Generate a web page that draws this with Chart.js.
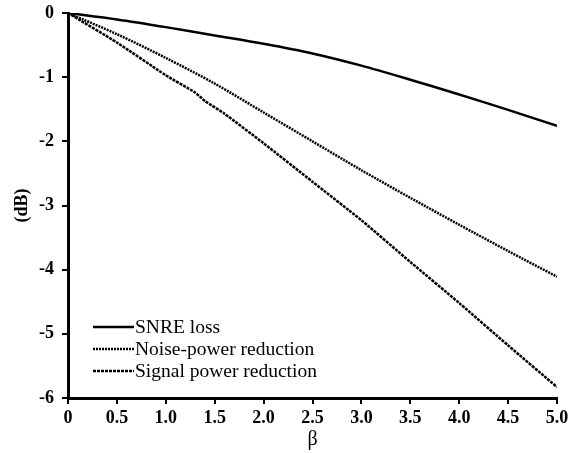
<!DOCTYPE html>
<html lang="en">

<head>
    <meta charset="UTF-8">
    <title>SNRE loss vs beta</title>
    <style>
        html, body {
            margin: 0;
            padding: 0;
            background: #fff;
        }
        .blocker {
            width: 573px;
            height: 453px;
        }
    </style>
    <script src="https://cdn.jsdelivr.net/npm/chart.js"></script>
</head>

<body>
    <div class="blocker">
        <canvas id="myChart"></canvas>
    </div>

    <script>
        // values
        const snreBeta = [0, 0.5, 1.0, 1.5, 2.0, 2.5, 3.0, 3.5, 4.0, 4.5, 5.0];
        const snreLoss = [0, -0.10, -0.22, -0.35, -0.48, -0.63, -0.82, -1.04, -1.27, -1.51, -1.76];

        const noiseBeta = [0, 0.5, 1.0, 1.5, 2.0, 2.5, 3.0, 3.5, 4.0, 4.5, 5.0];
        const noiseReduction = [0, -0.33, -0.70, -1.10, -1.55, -2.00, -2.45, -2.88, -3.30, -3.71, -4.11];

        const signalBeta = [0, 0.5, 1.0, 1.3, 1.4, 1.6, 2.0, 2.5, 3.0, 3.5, 4.0, 4.5, 5.0];
        const signalReduction = [0, -0.46, -0.97, -1.24, -1.37, -1.57, -2.03, -2.63, -3.23, -3.88, -4.52, -5.18, -5.83];

        const xTicks = [0, 0.5, 1.0, 1.5, 2.0, 2.5, 3.0, 3.5, 4.0, 4.5, 5.0];
        const yTicks = [0, -1, -2, -3, -4, -5, -6];

        const seriesNames = ['SNRE loss', 'Noise-power reduction', 'Signal power reduction'];

        const toPoints = (xs, ys) => xs.map((x, i) => ({ x: x, y: ys[i] }));

        const serif = '"Liberation Serif", "Times New Roman", serif';
        const tickFont = { family: serif, size: 18, weight: 'bold' };

        // legend drawn inside the plot, lower left
        const insideLegend = {
            id: 'insideLegend',
            afterDraw(chart) {
                const c = chart.ctx;
                const x0 = 93, x1 = 134;
                const rows = [327, 349, 371];
                c.save();
                c.font = '19.5px ' + serif;
                c.fillStyle = '#000';
                c.textBaseline = 'middle';
                chart.data.datasets.forEach((ds, i) => {
                    c.beginPath();
                    c.strokeStyle = '#000';
                    c.lineWidth = ds.borderWidth;
                    c.setLineDash(ds.borderDash || []);
                    c.moveTo(x0, rows[i]);
                    c.lineTo(x1, rows[i]);
                    c.stroke();
                    c.setLineDash([]);
                    c.fillText(ds.label, x1 + 1, rows[i] + 1);
                });
                c.restore();
            }
        };

        const ctx = document.getElementById('myChart');

        new Chart(ctx, {
            type: 'line',
            data: {
                datasets: [{
                    label: seriesNames[0],
                    data: toPoints(snreBeta, snreLoss),
                    borderColor: '#000',
                    borderWidth: 2.5,
                    pointRadius: 0,
                    tension: 0.3
                }, {
                    label: seriesNames[1],
                    data: toPoints(noiseBeta, noiseReduction),
                    borderColor: '#000',
                    borderWidth: 2.5,
                    borderDash: [2, 1],
                    pointRadius: 0,
                    tension: 0.3
                }, {
                    label: seriesNames[2],
                    data: toPoints(signalBeta, signalReduction),
                    borderColor: '#000',
                    borderWidth: 2.5,
                    borderDash: [3, 1],
                    pointRadius: 0,
                    tension: 0.2
                }]
            },
            options: {
                responsive: true,
                maintainAspectRatio: false,
                animation: false,
                layout: {
                    padding: { top: 13, right: 16, left: 0, bottom: 0 }
                },
                plugins: {
                    legend: { display: false },
                    tooltip: { enabled: false }
                },
                scales: {
                    x: {
                        type: 'linear',
                        min: 0,
                        max: 5,
                        afterBuildTicks: (s) => { s.ticks = xTicks.map(v => ({ value: v })); },
                        afterFit: (s) => { s.height = 55; },
                        grid: { drawOnChartArea: false, drawTicks: true, tickLength: 6, color: '#000', lineWidth: 2 },
                        border: { color: '#000', width: 3 },
                        ticks: {
                            color: '#000',
                            font: tickFont,
                            padding: 4,
                            maxRotation: 0,
                            callback: (v) => v === 0 ? '0' : v.toFixed(1)
                        },
                        title: {
                            display: true,
                            text: 'β',
                            color: '#000',
                            font: { family: serif, size: 20 },
                            padding: { top: 0, bottom: 1 }
                        }
                    },
                    y: {
                        type: 'linear',
                        min: -6,
                        max: 0,
                        afterBuildTicks: (s) => { s.ticks = yTicks.map(v => ({ value: v })); },
                        afterFit: (s) => {
                            s.width = 68;
                            s.paddingTop = 0;
                            s.paddingBottom = 0;
                        },
                        grid: { drawOnChartArea: false, drawTicks: true, tickLength: 6, color: '#000', lineWidth: 2 },
                        border: { color: '#000', width: 3 },
                        ticks: {
                            color: '#000',
                            font: tickFont,
                            padding: 8
                        },
                        title: {
                            display: true,
                            text: '(dB)',
                            color: '#000',
                            font: { family: serif, size: 18, weight: 'bold' },
                            padding: { top: 12, bottom: 0 }
                        }
                    }
                }
            },
            plugins: [insideLegend]
        });
    </script>
</body>

</html>
